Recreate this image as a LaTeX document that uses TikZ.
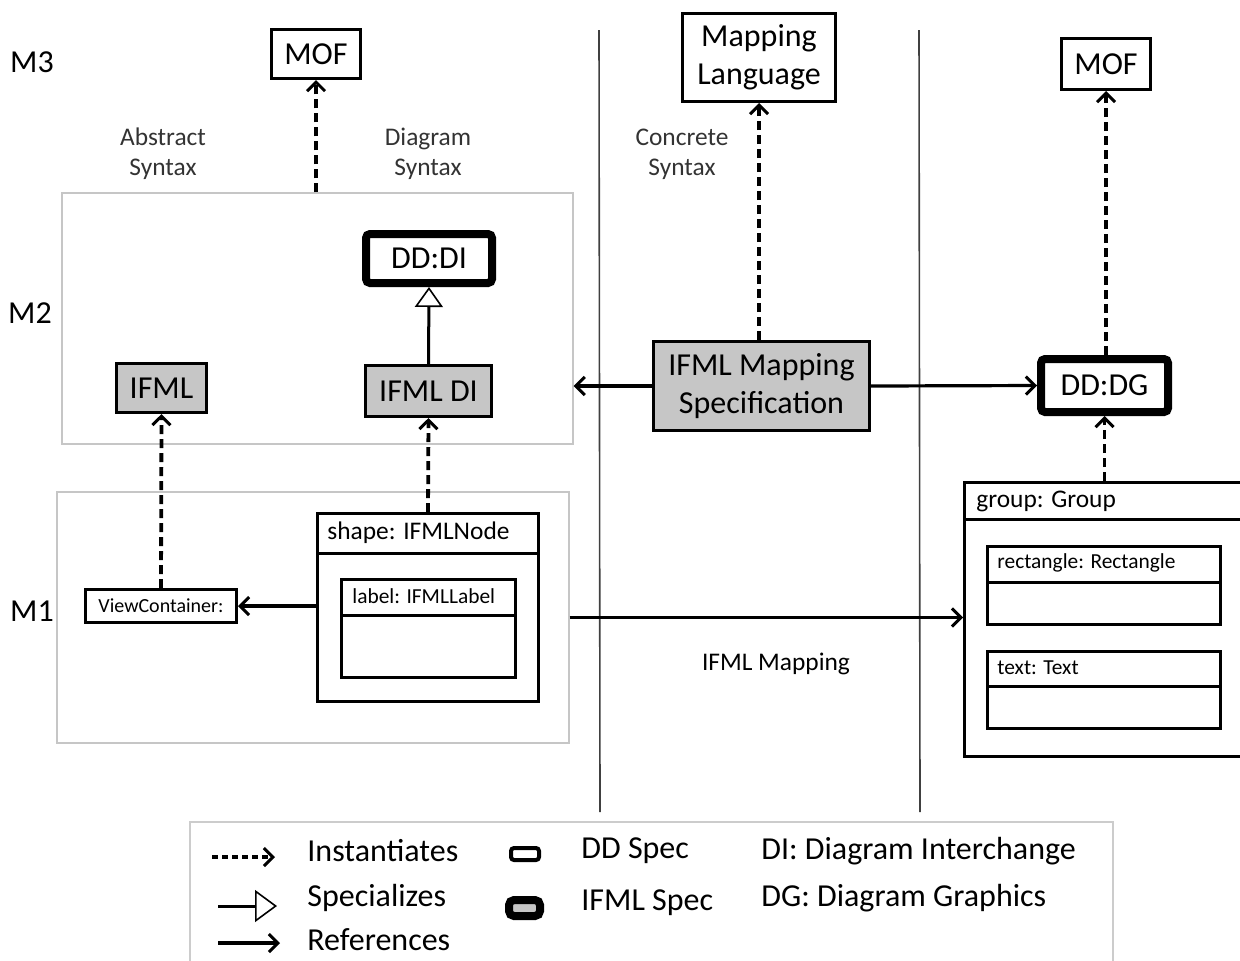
\documentclass[tikz,border=0pt]{standalone}
\usepackage{fontspec}
\setmainfont{Carlito}
\usetikzlibrary{arrows.meta}

\begin{document}
\begin{tikzpicture}[x=0.5pt,y=-0.5pt,
   bx/.style={draw,line width=1.5pt,inner sep=0pt,fill=white},
   ddbx/.style={draw,line width=4pt,inner sep=0pt,fill=white,rounded corners=2pt},
   ifbx/.style={bx,fill=gray!45},
   region/.style={draw=gray!45,line width=0.7pt,inner sep=0pt},
   inst/.style={line width=1.9pt,dash pattern=on 4.5pt off 2.5pt,-{Straight Barb[length=4.5pt,width=9pt,line width=1.5pt]}},
   refer/.style={line width=1.6pt,-{Straight Barb[length=4.5pt,width=9pt,line width=1.5pt]}},
   spec/.style={line width=1.5pt,-{Triangle[open,length=10pt,width=14pt,fill=white,line width=0.8pt]}},
   big/.style={font=\fontsize{16}{19}\selectfont},
   mid/.style={font=\fontsize{12.7}{15}\selectfont,text=black!80},
   sml/.style={font=\fontsize{10.7}{13}\selectfont},
   leg/.style={font=\fontsize{16}{18}\selectfont,anchor=west,inner sep=0pt}]
  \useasboundingbox (0,0) rectangle (1240,960);
  \clip (0,0) rectangle (1240,960);

  \node[big] (m3) at (32,62) {M3};
  \node[big] (m2) at (30,313) {M2};
  \node[big] (m1) at (32,611) {M1};
  \node[mid,align=center] (abs) at (163,154) {Abstract\\Syntax};
  \node[mid,align=center] (dia) at (428,154) {Diagram\\Syntax};
  \node[mid,align=center] (con) at (682,154) {Concrete\\Syntax};

  \draw[line width=0.8pt,black!75] (599,30) -- (600,812);
  \draw[line width=0.8pt,black!75] (919,30) -- (920,812);

  \node[region,minimum width=255.5pt,minimum height=125.5pt] (m2box) at (317.5,318.5) {};
  \node[region,minimum width=256pt,minimum height=125.5pt] (m1box) at (313,617.5) {};

  \node[bx,big,minimum width=44.5pt,minimum height=24.5pt] (mofa) at (316,54) {MOF};
  \node[bx,big,align=center,minimum width=76.5pt,minimum height=44pt] (maplang) at (759,57.5) {Mapping\\Language};
  \node[bx,big,minimum width=44.5pt,minimum height=25.5pt] (mofb) at (1106,64) {MOF};

  \node[ddbx,big,minimum width=63pt,minimum height=24.5pt] (dddi) at (429,258.5) {DD:DI};
  \node[ifbx,big,minimum width=45pt,minimum height=24.5pt] (ifml) at (161.5,388) {IFML};
  \node[ifbx,big,minimum width=63pt,minimum height=25.5pt] (ifmldi) at (428.5,391) {IFML DI};
  \node[ifbx,big,align=center,minimum width=108pt,minimum height=44.5pt] (mapspec) at (761.5,386) {IFML Mapping\\Specification};
  \node[ddbx,big,minimum width=63.5pt,minimum height=26.5pt] (dddg) at (1104.5,385.5) {DD:DG};

  \node[bx,font=\fontsize{10}{12}\selectfont,minimum width=75.5pt,minimum height=16.5pt] (viewc) at (161,606) {ViewContainer:};

  \node[bx,minimum width=110.5pt,minimum height=94pt] (shp) at (428,607.5) {};
  \draw[line width=1.5pt] ([yshift=-20.75pt]shp.north west) -- ([yshift=-20.75pt]shp.north east);
  \node[mid,text=black,anchor=west,inner sep=0pt] (shpt) at ([xshift=5.5pt,yshift=-10.5pt]shp.north west) {shape: IFMLNode};
  \node[bx,minimum width=87pt,minimum height=49pt] (lbl) at (428.5,628.5) {};
  \draw[line width=1.5pt] ([yshift=-18.75pt]lbl.north west) -- ([yshift=-18.75pt]lbl.north east);
  \node[sml,anchor=west,inner sep=0pt] (lblt) at ([xshift=6pt,yshift=-9pt]lbl.north west) {label: IFMLLabel};

  \node[bx,minimum width=142pt,minimum height=137pt] (grp) at (1106.5,619.5) {};
  \draw[line width=1.5pt] ([yshift=-19.25pt]grp.north west) -- ([yshift=-19.25pt]grp.north east);
  \node[mid,text=black,anchor=west,inner sep=0pt] (grpt) at ([xshift=6.5pt,yshift=-10pt]grp.north west) {group: Group};
  \node[bx,minimum width=116.5pt,minimum height=39pt] (rct) at (1104,585.5) {};
  \draw[line width=1.5pt] ([yshift=-18.75pt]rct.north west) -- ([yshift=-18.75pt]rct.north east);
  \node[sml,anchor=west,inner sep=0pt] (rctt) at ([xshift=5.5pt,yshift=-9pt]rct.north west) {rectangle: Rectangle};
  \node[bx,minimum width=116.5pt,minimum height=38.5pt] (txt) at (1104,690) {};
  \draw[line width=1.5pt] ([yshift=-18.25pt]txt.north west) -- ([yshift=-18.25pt]txt.north east);
  \node[sml,anchor=west,inner sep=0pt] (txtt) at ([xshift=5.5pt,yshift=-9pt]txt.north west) {text: Text};

  \node[mid,text=black] (maplbl) at (776,664) {IFML Mapping};

  \draw[inst] (mofa.south |- m2box.north) -- (mofa.south);
  \draw[inst] (maplang.south |- mapspec.north) -- (maplang.south);
  \draw[inst] (mofb.south |- dddg.north) -- (mofb.south);
  \draw[inst] (dddg.south |- grp.north) -- (dddg.south);
  \draw[inst] (viewc.north) -- (ifml.south);
  \draw[inst] (shp.north) -- (ifmldi.south);
  \draw[spec] (ifmldi.north) -- (dddi.south);
  \draw[refer] (mapspec.west) -- (mapspec.west -| m2box.east);
  \draw[refer] (mapspec.east) -- (dddg.west);
  \draw[refer] (viewc.east -| shp.west) -- (viewc.east);
  \draw[refer] (m1box.east) -- (m1box.east -| grp.west);

  \node[region,draw=gray!40,minimum width=461.5pt,minimum height=71.5pt] (legbox) at (651.5,893.5) {};
  \coordinate (ia) at (212,857);  \coordinate (ib) at (275,857);
  \coordinate (sa) at (218,906);  \coordinate (sb) at (277,906);
  \coordinate (ra) at (218,943);  \coordinate (rb) at (280,943);
  \draw[inst,dash pattern=on 3pt off 2pt] (ia) -- (ib);
  \draw[spec,-{Triangle[open,length=11pt,width=16pt,fill=white,line width=0.8pt]}] (sa) -- (sb);
  \draw[refer] (ra) -- (rb);
  \node[leg] (tinst) at (307,851) {Instantiates};
  \node[leg] (tspec) at (307,898) {Specializes};
  \node[leg] (tref) at (307,940) {References};
  \node[bx,line width=2pt,rounded corners=1.5pt,minimum width=14pt,minimum height=6pt] (ddicon) at (525,854) {};
  \node[ddbx,fill=gray!45,rounded corners=2.5pt,minimum width=15.5pt,minimum height=8pt] (ificon) at (524.5,908) {};
  \node[leg] (tdd) at (581,851) {DD Spec};
  \node[leg] (tif) at (581,903) {IFML Spec};
  \node[leg] (tdi) at (761,851) {DI: Diagram Interchange};
  \node[leg] (tdg) at (761,898) {DG: Diagram Graphics};
\end{tikzpicture}
\end{document}
